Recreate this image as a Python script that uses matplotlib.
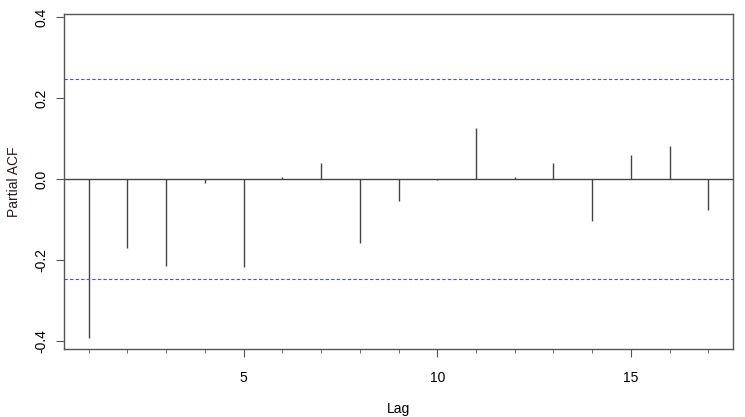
import matplotlib
matplotlib.use('Agg')
from matplotlib import pyplot as plt

lags = list(range(1, 18))
pacf = [-0.392, -0.171, -0.216, -0.009, -0.218, 0.005, 0.040, -0.158, -0.054,
        -0.003, 0.127, 0.006, 0.040, -0.105, 0.058, 0.081, -0.076]
clim = 0.247
xticks = [5, 10, 15]
yticks = [-0.4, -0.2, 0.0, 0.2, 0.4]

plt.rcParams['font.family'] = ['Liberation Sans', 'DejaVu Sans']

fig = plt.figure(figsize=(7.45, 4.17), dpi=100)
ax = fig.add_axes([0.0859, 0.163, 0.898, 0.803])

ax.vlines(lags, 0, pacf, colors='#444444', linewidth=1.0)
ax.axhline(0, color='#444444', linewidth=1.0)
ax.axhline(clim, color='#4a4aff', linewidth=0.8, linestyle=(0, (3, 2)))
ax.axhline(-clim, color='#4a4aff', linewidth=0.8, linestyle=(0, (3, 2)))

ax.set_xlim(0.36, 17.64)
ax.set_ylim(-0.42, 0.407)
ax.set_xticks(xticks)
ax.set_xticks(lags, minor=True)
ax.set_yticks(yticks)
ax.set_yticklabels(['%.1f' % v for v in yticks], rotation=90, va='center')

for s in ax.spines.values():
    s.set_color('#555555')
    s.set_linewidth(1.0)
ax.tick_params(axis='both', which='major', length=6, color='#555555', labelsize=10, pad=5)
ax.tick_params(axis='x', which='minor', length=3, color='#555555')
ax.tick_params(axis='x', which='major', pad=10)

ax.set_xlabel('Lag', fontsize=10, labelpad=12)
ax.set_ylabel('Partial ACF', fontsize=10, labelpad=10, color='#2a1a1a')

fig.savefig('out.png', dpi=100)
